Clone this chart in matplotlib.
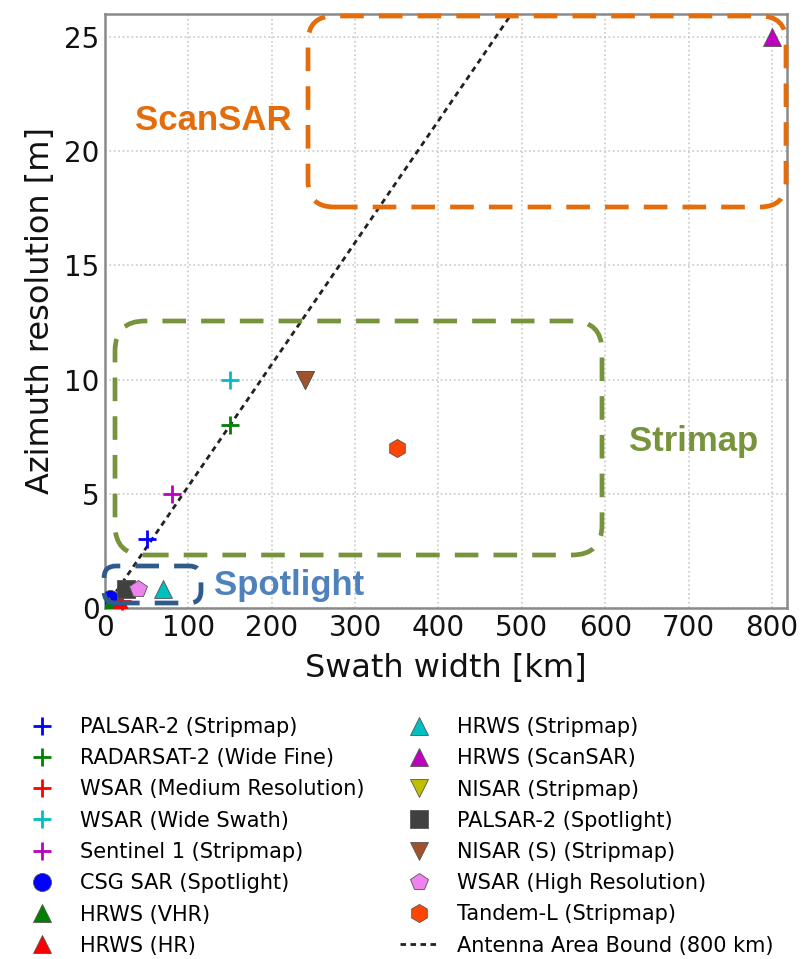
import matplotlib
matplotlib.use("Agg")
import matplotlib.pyplot as plt
import numpy as np
from matplotlib.patches import FancyBboxPatch
from matplotlib.transforms import IdentityTransform

# Sensor modes: (label, swath width [km], azimuth resolution [m])
labels = [
    "PALSAR-2 (Stripmap)", "RADARSAT-2 (Wide Fine)", "WSAR (Medium Resolution)",
    "WSAR (Wide Swath)", "Sentinel 1 (Stripmap)", "CSG SAR (Spotlight)",
    "HRWS (VHR)", "HRWS (HR)", "HRWS (Stripmap)", "HRWS (ScanSAR)",
    "NISAR (Stripmap)", "PALSAR-2 (Spotlight)", "NISAR (S) (Stripmap)",
    "WSAR (High Resolution)", "Tandem-L (Stripmap)",
]
swath_km = [50, 150, 20, 150, 80, 6, 5, 18, 70, 800, 240, 25, 240, 40, 350]
azimuth_m = [3, 8, 0.3, 10, 5, 0.4, 0.1, 0.25, 0.85, 25, 10, 0.85, 10, 0.85, 7]
markers = ["+", "+", "+", "+", "+", "o", "^", "^", "^", "^", "v", "s", "v", "p", "h"]
colors = ["#0000ff", "#008000", "#ff0000", "#00bfbf", "#bf00bf", "#0000ff",
          "#008000", "#ff0000", "#00bfbf", "#bf00bf", "#bfbf00", "#404040",
          "#a0522d", "#ee82ee", "#ff4500"]

# Antenna area bound: azimuth resolution grows linearly with swath (800 km design)
bound_slope = 8 / 150
bound_x = np.array([0, 800])
bound_label = "Antenna Area Bound (800 km)"

xticks = [0, 100, 200, 300, 400, 500, 600, 700, 800]
yticks = [0, 5, 10, 15, 20, 25]

W, H = 808, 959
fig = plt.figure(figsize=(W / 100, H / 100), dpi=100)
ax = fig.add_axes([105 / W, 1 - 608 / H, (787 - 105) / W, (608 - 14) / H])

for lab, x, y, m, c in zip(labels, swath_km, azimuth_m, markers, colors):
    if m == "+":
        ax.plot([x], [y], linestyle="none", marker=m, color=c, ms=13, mew=2.0,
                label=lab, clip_on=False, zorder=3)
    else:
        ax.plot([x], [y], linestyle="none", marker=m, color=c, ms=13, mew=0.6,
                mec="#555555", label=lab, zorder=3)

ax.plot(bound_x, bound_slope * bound_x, linestyle=(0, (2.0, 1.6)), color="#222222",
        lw=2.0, label=bound_label, zorder=2)

ax.set_xlim(0, 818)
ax.set_ylim(0, 26)
ax.set_xticks(xticks)
ax.set_yticks(yticks)
ax.grid(True, linestyle=":", color="#c8c8c8", lw=1.2)
ax.set_axisbelow(True)
for s in ax.spines.values():
    s.set_color("#8a8a8a")
    s.set_linewidth(1.8)
ax.tick_params(length=0, labelsize=20, pad=4, colors="#111111")
ax.set_xlabel("Swath width [km]", fontsize=23, color="#111111", labelpad=8)
ax.set_ylabel("Azimuth resolution [m]", fontsize=23, color="#111111", labelpad=6)

# Rounded dashed regions marking the imaging modes (pixel coordinates, top-left origin)
def region(x0, y0, x1, y1, color, rad):
    p = FancyBboxPatch((x0 + rad, H - y1 + rad), (x1 - x0) - 2 * rad, (y1 - y0) - 2 * rad,
                       boxstyle=f"round,pad={rad},rounding_size={rad}",
                       transform=IdentityTransform(), fill=False, edgecolor=color,
                       lw=3.4, linestyle=(0, (5, 3.2)), clip_on=False, zorder=4)
    fig.add_artist(p)

region(308, 16, 786, 207, "#e46c0a", 26)
region(115, 321, 602, 555, "#77933c", 30)
region(104, 566, 201, 603, "#2f5b8c", 12)

bold = dict(family=["Liberation Sans", "DejaVu Sans"], fontweight="bold", fontsize=25,
            ha="center", va="center")
fig.text(213 / W, 1 - 120 / H, "ScanSAR", color="#e46c0a", **bold)
fig.text(694 / W, 1 - 441 / H, "Strimap", color="#77933c", **bold)
fig.text(289 / W, 1 - 585 / H, "Spotlight", color="#4f81bd", **bold)

handles, labs = ax.get_legend_handles_labels()
fig.legend(handles, labs, loc="upper left", bbox_to_anchor=(22 / W, 1 - 717 / H),
           ncol=2, frameon=False, fontsize=15, numpoints=1, handlelength=1.9,
           handletextpad=0.87, labelspacing=0.54, columnspacing=1.7,
           borderaxespad=0, borderpad=0)

fig.savefig("out.png", dpi=100)
